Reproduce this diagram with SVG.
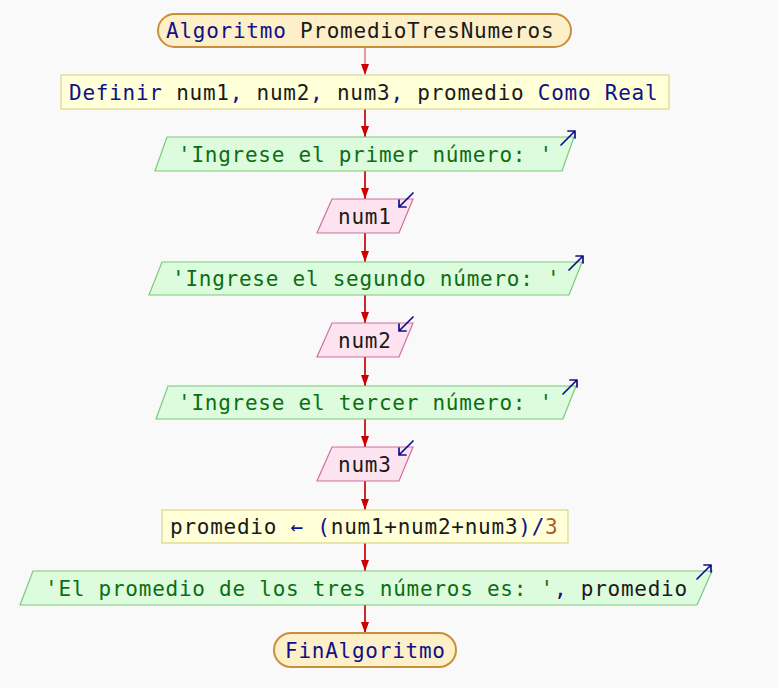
<svg xmlns="http://www.w3.org/2000/svg" width="778" height="688" viewBox="0 0 778 688">
  <defs>
    <style>
      text { font-family: "DejaVu Sans Mono", "Liberation Mono", monospace; font-size: 21px; letter-spacing: 0.75px; fill: #1a1a1a; }
      .kw { fill: #10108a; }
      .str { fill: #0b6e14; }
      .num { fill: #b05a2a; }
      .term { fill: #fdefc8; stroke: #c8903c; stroke-width: 2; }
      .proc { fill: #ffffd8; stroke: #dcd68c; stroke-width: 1.2; }
      .out { fill: #ddfbdd; stroke: #7cc87c; stroke-width: 1.2; }
      .in { fill: #fde2ef; stroke: #d0709c; stroke-width: 1.2; }
      .icon { fill: none; stroke: #10108a; stroke-width: 1.7; stroke-linecap: round; stroke-linejoin: round; }
      .flow { stroke: #cc0000; stroke-width: 1.7; fill: none; marker-end: url(#head); }
    </style>
    <marker id="head" markerWidth="11" markerHeight="8" viewBox="0 0 11 8" refX="11" refY="4" orient="auto" markerUnits="userSpaceOnUse">
      <path d="M0,0 L11,4 L0,8 Z" fill="#cc0000"/>
    </marker>
  </defs>

  <rect width="778" height="688" fill="#f9f9f9"/>

  <g id="connectors">
    <line x1="365" y1="47" x2="365" y2="75" class="flow" style="stroke:#e08a94"/>
    <line x1="365" y1="109" x2="365" y2="137" class="flow"/>
    <line x1="365" y1="171" x2="365" y2="199" class="flow"/>
    <line x1="365" y1="233" x2="365" y2="262" class="flow"/>
    <line x1="365" y1="295" x2="365" y2="323" class="flow"/>
    <line x1="365" y1="357" x2="365" y2="386" class="flow"/>
    <line x1="365" y1="419" x2="365" y2="447" class="flow"/>
    <line x1="365" y1="481" x2="365" y2="510" class="flow"/>
    <line x1="365" y1="543" x2="365" y2="571" class="flow"/>
    <line x1="365" y1="605" x2="365" y2="633" class="flow"/>
  </g>

  <g id="inicio">
    <rect x="158" y="14" width="413" height="33" rx="16.5" class="term"/>
    <text x="166" y="38"><tspan class="kw">Algoritmo</tspan> PromedioTresNumeros</text>
  </g>

  <g id="definir">
    <rect x="61" y="75" width="608" height="34" class="proc"/>
    <text x="69" y="100"><tspan class="kw">Definir</tspan> num1<tspan class="kw">,</tspan> num2<tspan class="kw">,</tspan> num3<tspan class="kw">,</tspan> promedio <tspan class="kw">Como Real</tspan></text>
  </g>

  <g id="escribir1">
    <polygon points="167,137 574,137 562,171 155,171" class="out"/>
    <text x="178" y="162" class="str">'Ingrese el primer número: '</text>
    <path d="M561,145 L575,131 M568,131 L575,131 L575,138" class="icon"/>
  </g>

  <g id="leer1">
    <polygon points="332,199 413,199 399,233 317,233" class="in"/>
    <text x="338" y="224">num1</text>
    <path d="M413,193 L399,207 M399,200 L399,207 L406,207" class="icon"/>
  </g>

  <g id="escribir2">
    <polygon points="162,262 582,262 569,295 149,295" class="out"/>
    <text x="172" y="286" class="str">'Ingrese el segundo número: '</text>
    <path d="M569,270 L583,256 M576,256 L583,256 L583,263" class="icon"/>
  </g>

  <g id="leer2">
    <polygon points="332,323 413,323 399,357 317,357" class="in"/>
    <text x="338" y="348">num2</text>
    <path d="M413,317 L399,331 M399,324 L399,331 L406,331" class="icon"/>
  </g>

  <g id="escribir3">
    <polygon points="168,386 576,386 563,419 156,419" class="out"/>
    <text x="178" y="410" class="str">'Ingrese el tercer número: '</text>
    <path d="M563,394 L577,380 M570,380 L577,380 L577,387" class="icon"/>
  </g>

  <g id="leer3">
    <polygon points="332,447 413,447 399,481 317,481" class="in"/>
    <text x="338" y="472">num3</text>
    <path d="M413,441 L399,455 M399,448 L399,455 L406,455" class="icon"/>
  </g>

  <g id="asignar">
    <rect x="162" y="510" width="406" height="33" class="proc"/>
    <text x="170" y="534">promedio <tspan class="kw">←</tspan> <tspan class="kw">(</tspan>num1+num2+num3<tspan class="kw">)/</tspan><tspan class="num">3</tspan></text>
  </g>

  <g id="escribir4">
    <polygon points="33,571 712,571 697,605 20,605" class="out"/>
    <text x="45" y="596"><tspan class="str">'El promedio de los tres números es: '</tspan><tspan class="kw">,</tspan> promedio</text>
    <path d="M697,579 L711,565 M704,565 L711,565 L711,572" class="icon"/>
  </g>

  <g id="fin">
    <rect x="274" y="633" width="182" height="34" rx="17" class="term"/>
    <text x="285" y="658" class="kw">FinAlgoritmo</text>
  </g>
</svg>
